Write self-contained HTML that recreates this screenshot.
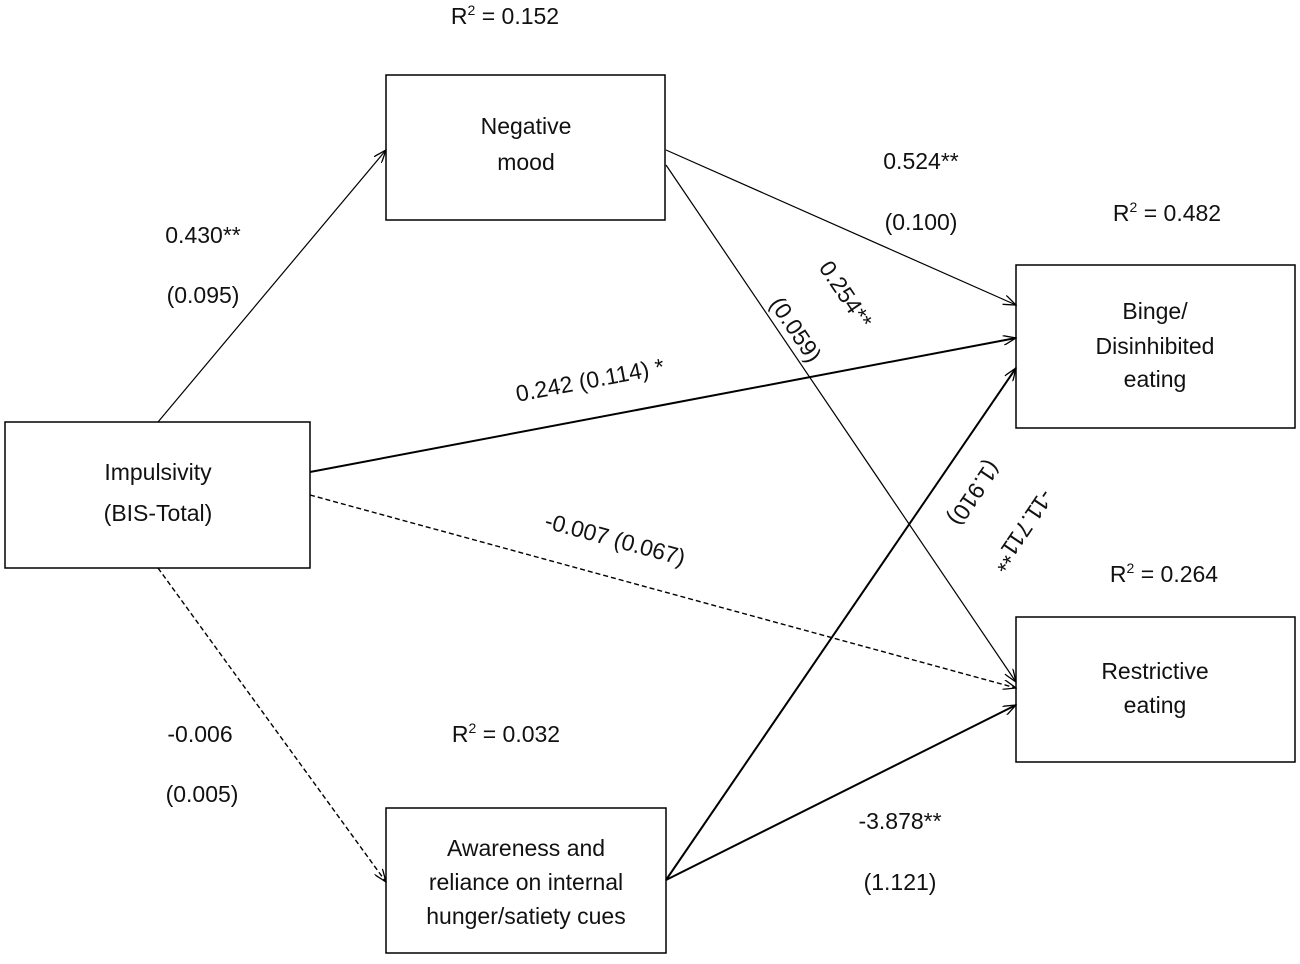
<!DOCTYPE html>
<html><head><meta charset="utf-8"><style>
html,body{margin:0;padding:0;background:#fff;}
svg text{font-family:"Liberation Sans",Arial,sans-serif;font-size:23px;fill:#111;}
</style></head><body>
<svg width="1300" height="959" viewBox="0 0 1300 959" xmlns="http://www.w3.org/2000/svg">
<defs>
<marker id="a" markerWidth="14" markerHeight="10" refX="13" refY="5" orient="auto" markerUnits="userSpaceOnUse">
<path d="M0,0 L13,5 L0,10" fill="none" stroke="#000" stroke-width="1.3"/>
</marker>
</defs>
<g fill="none" stroke="#000" stroke-width="1.5">
<rect x="386" y="75" width="279" height="145"/>
<rect x="5" y="422" width="305" height="146"/>
<rect x="1016" y="265" width="279" height="163"/>
<rect x="1016" y="617" width="279" height="145"/>
<rect x="386" y="808" width="280" height="145"/>
</g>
<g fill="none" stroke="#000">
<line x1="158" y1="422" x2="386" y2="150" stroke-width="1.2" marker-end="url(#a)"/>
<line x1="666" y1="150" x2="1016" y2="305" stroke-width="1.2" marker-end="url(#a)"/>
<line x1="666" y1="165" x2="1016" y2="682" stroke-width="1.2" marker-end="url(#a)"/>
<line x1="310" y1="472" x2="1016" y2="338" stroke-width="2" marker-end="url(#a)"/>
<line x1="310" y1="495" x2="1016" y2="688" stroke-width="1.4" stroke-dasharray="5,3" marker-end="url(#a)"/>
<line x1="158" y1="568" x2="386" y2="882" stroke-width="1.4" stroke-dasharray="5,3" marker-end="url(#a)"/>
<line x1="666" y1="880" x2="1016" y2="368" stroke-width="2" marker-end="url(#a)"/>
<line x1="666" y1="880" x2="1016" y2="705" stroke-width="2" marker-end="url(#a)"/>
</g>
<g text-anchor="middle">
<text x="526" y="134">Negative</text>
<text x="526" y="170">mood</text>
<text x="158" y="480">Impulsivity</text>
<text x="158" y="521">(BIS-Total)</text>
<text x="1155" y="319">Binge/</text>
<text x="1155" y="354">Disinhibited</text>
<text x="1155" y="387">eating</text>
<text x="1155" y="679">Restrictive</text>
<text x="1155" y="713">eating</text>
<text x="526" y="856">Awareness and</text>
<text x="526" y="890">reliance on internal</text>
<text x="526" y="924">hunger/satiety cues</text>
<text x="505" y="24">R<tspan font-size="14" dy="-9">2</tspan><tspan dy="9"> = 0.152</tspan></text>
<text x="1167" y="221">R<tspan font-size="14" dy="-9">2</tspan><tspan dy="9"> = 0.482</tspan></text>
<text x="1164" y="582">R<tspan font-size="14" dy="-9">2</tspan><tspan dy="9"> = 0.264</tspan></text>
<text x="506" y="742">R<tspan font-size="14" dy="-9">2</tspan><tspan dy="9"> = 0.032</tspan></text>
<text x="203" y="243">0.430**</text>
<text x="203" y="303">(0.095)</text>
<text x="921" y="169">0.524**</text>
<text x="921" y="230">(0.100)</text>
<text x="200" y="742">-0.006</text>
<text x="202" y="802">(0.005)</text>
<text x="900" y="829">-3.878**</text>
<text x="900" y="890">(1.121)</text>
<text x="590" y="388" transform="rotate(-10.7 590 380)">0.242 (0.114) *</text>
<text x="615" y="547" transform="rotate(15.3 615 540)">-0.007 (0.067)</text>
<text x="845" y="302" transform="rotate(56 845 295)">0.254**</text>
<text x="795" y="337" transform="rotate(56 795 330)">(0.059)</text>
<text x="962" y="478" transform="rotate(124 962 485)">(1.910)</text>
<text x="1010" y="515" transform="rotate(124 1010 522)">-11.711**</text>
</g>
</svg>
</body></html>
